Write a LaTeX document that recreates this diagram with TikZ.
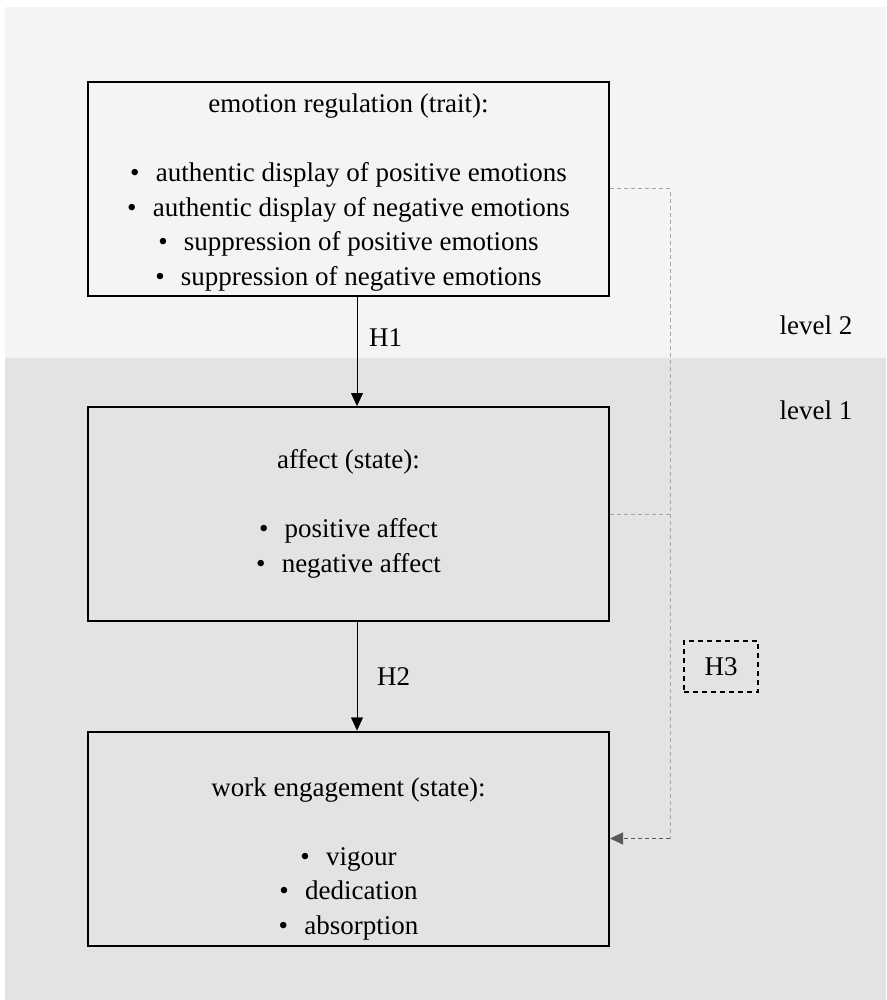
\documentclass[tikz,border=0pt]{standalone}
\usepackage{xcolor}
\usepackage{fontspec}
\setmainfont{Liberation Serif}
\usetikzlibrary{arrows.meta}

\definecolor{levtwo}{HTML}{F4F4F4}
\definecolor{levone}{HTML}{E3E3E3}
\definecolor{linkgray}{HTML}{A6A6A6}
\newcommand{\itm}{\textbullet\hspace{0.6em}}

\begin{document}
\begin{tikzpicture}[x=1pt,y=-1pt,
    box/.style={draw,line width=2pt,minimum width=521pt,minimum height=214pt,
      align=center,inner sep=0pt,font=\fontsize{27}{34.5}\selectfont},
    txt/.style={font=\fontsize{27}{30}\selectfont,inner sep=0pt},
    tip/.style={-{Triangle[length=13pt,width=12pt]}},
    link/.style={linkgray,line width=1pt,dash pattern=on 4pt off 3pt}]
          \useasboundingbox (0,0) rectangle (886,1000);
          \fill[white] (0,0) rectangle (886,1000);
          \fill[levtwo] (5,7) rectangle (886,358);
          \fill[levone] (5,358) rectangle (886,1000);

          \coordinate (mid) at (357,0);
          \coordinate (hub) at (670,0);

          \node[box] (reg) at (348.5,189) {\mbox{}\\[-9pt]emotion regulation (trait):\\[34.5pt]
            \itm authentic display of positive emotions\\
            \itm authentic display of negative emotions\\
            \itm suppression of positive emotions\\
            \itm suppression of negative emotions};
          \node[box] (aff) at (348.5,514) {affect (state):\\[34.5pt]
            \itm positive affect\\
            \itm negative affect};
          \node[box] (eng) at (348.5,838.5) {\mbox{}\\[25pt] work engagement (state):\\[34.5pt]
            \itm vigour\\
            \itm dedication\\
            \itm absorption};

          \node[txt] (lvtwo) at (816,325) {level 2};
          \node[txt] (lvone) at (816,410) {level 1};

          \draw[tip] (reg.south -| mid) -- (aff.north -| mid)
            node[txt,pos=0.37,right=12pt] (hone) {H1};
          \draw[tip] (aff.south -| mid) -- (eng.north -| mid)
            node[txt,pos=0.5,right=20pt] (htwo) {H2};

          \draw[link] (reg.east) -- (reg.east -| hub) -- (eng.east -| hub);
          \draw[link] (aff.east) -- (aff.east -| hub);
          \draw[black!65,line width=1pt,dash pattern=on 4pt off 3pt,tip]
            (eng.east -| hub) -- (eng.east);

          \node[txt,draw,line width=1.3pt,dash pattern=on 5pt off 4pt,
            minimum width=74pt,minimum height=51pt] (hthree) at (721,666.5) {H3};
          \end{tikzpicture}
\end{document}
